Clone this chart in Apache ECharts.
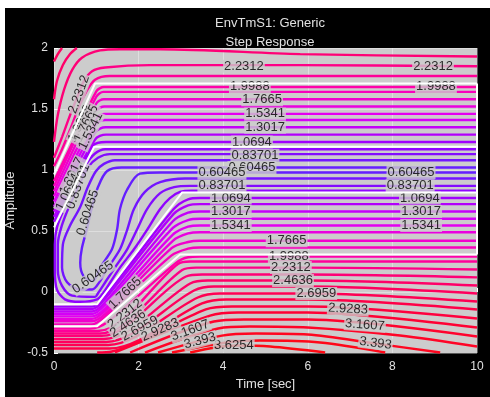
<!doctype html>
<html>
<head>
<meta charset="utf-8">
<title>EnvTmS1: Generic</title>
<script src="https://cdn.jsdelivr.net/npm/echarts@6/dist/echarts.min.js"></script>
<style>
  html, body { margin: 0; background: #fff; }
  #main { position: absolute; left: 5px; top: 8px; width: 485px; height: 389px; background: #000; }
</style>
</head>
<body>
<div id="main"></div>
<script>
// contour lines, one entry per level: [t, amplitude] points
var cornerArcs = [
  {lv: 2.581, pts: [[0,1.89],[0.09,1.95],[0.19,2.0]]},
  {lv: 2.464, pts: [[0,1.58],[0.07,1.73],[0.21,1.86],[0.38,1.95],[0.54,2.0]]},
  {lv: 2.348, pts: [[0,1.23],[0.09,1.45],[0.24,1.66],[0.43,1.82],[0.66,1.92],[1.09,1.98],[1.56,1.99],[2.51,1.99],[5.82,1.95],[10,1.93]]}
];

var upperBand = [
  {lv: 2.2312, pts: [[0,1.10],[0.19,1.27],[0.38,1.45],[0.54,1.59],[0.71,1.73],[0.9,1.81],[1.21,1.84],[2.27,1.86],[5.82,1.86],[10,1.85]]},
  {lv: 2.115, pts: [[0,1.03],[0.19,1.17],[0.38,1.33],[0.57,1.50],[0.76,1.64],[0.97,1.74],[1.32,1.77],[10,1.77]]},
  {lv: 1.9988, pts: [[0,0.91],[0.5,1.27],[1.0,1.645],[1.18,1.68],[10,1.68]]},
  {lv: 1.883, pts: [[0,0.868],[1.0,1.60],[1.17,1.64],[10,1.64]]},
  {lv: 1.7665, pts: [[0,0.826],[1.0,1.545],[1.18,1.58],[10,1.58]]},
  {lv: 1.650, pts: [[0,0.784],[1.0,1.485],[1.19,1.52],[10,1.52]]},
  {lv: 1.5341, pts: [[0,0.742],[1.0,1.425],[1.2,1.46],[10,1.46]]},
  {lv: 1.418, pts: [[0,0.70],[1.0,1.375],[1.21,1.41],[10,1.41]]},
  {lv: 1.3017, pts: [[0,0.659],[0.98,1.31],[1.22,1.35],[10,1.35]]},
  {lv: 1.186, pts: [[0,0.617],[0.97,1.25],[1.23,1.29],[10,1.29]]},
  {lv: 1.0694, pts: [[0,0.575],[0.93,1.20],[1.23,1.23],[10,1.23]]}
];

// loops round the low valley (enter and leave at t = 10)
var valleyLines = [
  {lv: 0.60465, pts: [[10,1.02],[3.0,1.02],[1.6,1.02],[1.25,0.99],[1.04,0.86],[0.90,0.70],[0.78,0.52],[0.66,0.36],[0.62,0.24],[0.70,0.13],[0.92,0.09],[1.09,0.20],[1.37,0.35],[1.49,0.51],[1.56,0.68],[1.73,0.84],[2.03,0.97],[2.51,0.98],[10,0.98]]},
  {lv: 0.721, pts: [[10,1.08],[1.44,1.08],[1.18,1.05],[0.99,0.99],[0.80,0.86],[0.61,0.69],[0.38,0.545],[0.21,0.39],[0.19,0.20],[0.31,0.08],[0.61,0.02],[0.90,0.02],[1.09,0.09],[1.28,0.20],[1.56,0.35],[1.73,0.51],[1.89,0.68],[2.15,0.82],[2.51,0.90],[3.10,0.93],[10,0.93]]},
  {lv: 0.837, pts: [[10,1.13],[1.32,1.13],[1.04,1.10],[0.80,1.02],[0.57,0.865],[0.38,0.72],[0.19,0.55],[0.09,0.39],[0.09,0.18],[0.19,0.05],[0.43,-0.03],[0.97,-0.04],[1.04,-0.01],[1.23,0.09],[1.44,0.20],[1.73,0.35],[1.96,0.51],[2.20,0.68],[2.51,0.81],[2.84,0.86],[3.22,0.87],[10,0.87]]},
  {lv: 0.953, pts: [[10,1.17],[1.21,1.17],[0.97,1.135],[0.76,1.045],[0.50,0.865],[0.24,0.68],[0.07,0.53],[0.02,0.39],[0.02,0.18],[0.07,0.02],[0.26,-0.06],[0.61,-0.08],[1.02,-0.06],[1.18,0.0],[1.35,0.09],[1.56,0.20],[1.89,0.35],[2.20,0.51],[2.51,0.68],[2.74,0.77],[2.98,0.82],[3.26,0.83],[10,0.83]]}
];

var lowerBand = [
  {lv: 1.0694, pts: [[10,0.77],[3.45,0.77],[3.17,0.76],[2.83,0.68],[1.22,-0.03],[0.90,-0.12],[0,-0.12]]},
  {lv: 1.186, pts: [[10,0.72],[3.45,0.72],[3.17,0.71],[2.83,0.64],[1.22,-0.05],[0.90,-0.14],[0,-0.14]]},
  {lv: 1.3017, pts: [[10,0.66],[3.45,0.66],[3.17,0.65],[2.81,0.58],[1.22,-0.08],[0.90,-0.16],[0,-0.16]]},
  {lv: 1.418, pts: [[10,0.60],[3.45,0.60],[3.17,0.59],[2.81,0.525],[1.22,-0.10],[0.90,-0.18],[0,-0.18]]},
  {lv: 1.5341, pts: [[10,0.545],[3.45,0.545],[3.17,0.535],[2.81,0.47],[1.22,-0.13],[0.90,-0.20],[0,-0.20]]},
  {lv: 1.650, pts: [[10,0.49],[3.45,0.49],[3.17,0.48],[2.81,0.42],[1.22,-0.15],[0.90,-0.22],[0,-0.22]]},
  {lv: 1.7665, pts: [[10,0.42],[3.45,0.42],[3.17,0.41],[2.78,0.36],[1.21,-0.18],[0.90,-0.24],[0,-0.24]]},
  {lv: 1.883, pts: [[10,0.365],[3.45,0.365],[3.17,0.355],[2.78,0.30],[1.21,-0.20],[0.90,-0.265],[0,-0.265]]},
  {lv: 1.9988, pts: [[10,0.29],[3.45,0.29],[3.17,0.285],[2.87,0.235],[1.29,-0.24],[0.85,-0.30],[0,-0.30]]}
];

var bottomLines = [
  {lv: 2.115, pts: [[0,-0.32],[1.04,-0.32],[2.93,0.23],[3.22,0.25],[10,0.25]]},
  {lv: 2.2312, pts: [[0,-0.34],[1.09,-0.34],[3.03,0.18],[3.36,0.20],[6.0,0.20],[10,0.185]]},
  {lv: 2.348, pts: [[0,-0.36],[1.13,-0.36],[3.12,0.127],[3.50,0.143],[6.0,0.143],[10,0.12]]},
  {lv: 2.4636, pts: [[0,-0.385],[1.18,-0.385],[3.22,0.07],[3.64,0.094],[6.0,0.094],[10,0.053]]},
  {lv: 2.580, pts: [[0,-0.41],[1.23,-0.41],[3.31,0.012],[3.78,0.045],[6.0,0.045],[10,-0.012]]},
  {lv: 2.6959, pts: [[0,-0.434],[1.28,-0.434],[3.40,-0.045],[3.92,-0.012],[6.0,-0.012],[10,-0.078]]},
  {lv: 2.812, pts: [[0,-0.463],[1.32,-0.463],[3.50,-0.094],[4.07,-0.061],[6.0,-0.061],[10,-0.143]]},
  {lv: 2.9283, pts: [[1.02,-0.496],[1.37,-0.488],[3.59,-0.143],[4.21,-0.119],[6.0,-0.119],[10,-0.217]]},
  {lv: 3.045, pts: [[1.44,-0.496],[3.69,-0.193],[4.35,-0.168],[6.0,-0.168],[10,-0.291]]},
  {lv: 3.1607, pts: [[1.80,-0.496],[3.78,-0.242],[4.49,-0.225],[6.0,-0.225],[10,-0.365]]},
  {lv: 3.277, pts: [[2.15,-0.496],[3.88,-0.299],[4.63,-0.283],[6.0,-0.291],[8.18,-0.357],[10,-0.447]]},
  {lv: 3.393, pts: [[2.46,-0.496],[3.97,-0.357],[4.78,-0.340],[6.0,-0.348],[7.59,-0.422],[9.13,-0.496]]},
  {lv: 3.509, pts: [[2.79,-0.496],[4.07,-0.414],[4.87,-0.398],[6.29,-0.414],[7.83,-0.496]]},
  {lv: 3.6254, pts: [[3.22,-0.496],[3.81,-0.455],[4.33,-0.439],[5.11,-0.447],[6.41,-0.496]]}
];

// white bound lines
var whiteBounds = [
  [[0,0.963],[0.97,1.709],[10,1.709]],
  [[0,0.53],[0.95,1.19],[10,1.19]],
  [[0,-0.10],[1.02,-0.10],[3.03,0.816],[10,0.816]],
  [[0,-0.28],[1.02,-0.28],[2.98,0.307],[10,0.307]],
  [[10,1.709],[10,0.307]]
];

// contour labels: text, t, amplitude, rotation (deg)
var labelList = [
  ['2.2312', 4.49, 1.85, 0], ['1.9988', 4.63, 1.685, 0], ['1.7665', 4.92, 1.575, 0],
  ['1.5341', 4.99, 1.46, 0], ['1.3017', 4.99, 1.35, 0], ['1.0694', 4.68, 1.23, 0],
  ['0.83701', 4.75, 1.12, 0], ['0.60465', 4.68, 1.02, 0],
  ['0.60465', 3.97, 0.98, 0], ['0.83701', 3.97, 0.87, 0], ['1.0694', 4.18, 0.77, 0],
  ['1.3017', 4.18, 0.66, 0], ['1.5341', 4.18, 0.545, 0],
  ['1.7665', 5.5, 0.42, 0], ['1.9988', 5.55, 0.29, 0], ['2.2312', 5.6, 0.20, 0],
  ['2.4636', 5.65, 0.094, 0], ['2.6959', 6.2, -0.012, 0], ['2.9283', 6.95, -0.14, -3],
  ['3.1607', 7.35, -0.27, -4], ['3.393', 7.6, -0.42, -7], ['3.6254', 4.25, -0.44, 0],
  ['2.2312', 8.96, 1.85, 0], ['1.9988', 9.03, 1.685, 0], ['0.60465', 8.44, 0.98, 0],
  ['0.83701', 8.42, 0.87, 0], ['1.0694', 8.65, 0.77, 0], ['1.3017', 8.68, 0.66, 0],
  ['1.5341', 8.68, 0.545, 0],
  ['2.2312', 0.59, 1.62, 70], ['1.9988', 0.62, 1.38, 64], ['1.7665', 0.76, 1.38, 64],
  ['1.5341', 0.87, 1.32, 64], ['1.3017', 0.42, 0.95, 64], ['1.0694', 0.33, 0.82, 64],
  ['0.83701', 0.57, 0.865, 70], ['0.60465', 0.80, 0.65, 72], ['0.60465', 0.92, 0.12, 35],
  ['1.7665', 1.68, -0.01, 44], ['2.2312', 1.68, -0.18, 38], ['2.4636', 1.75, -0.26, 33],
  ['2.6959', 2.03, -0.30, 28], ['2.9283', 2.51, -0.31, 24], ['3.1607', 3.22, -0.315, 20],
  ['3.393', 3.45, -0.40, 15]
];

var colorStops = [
  [0.6, [100, 30, 255]], [1.0, [150, 0, 255]], [1.5, [225, 0, 245]],
  [2.0, [255, 0, 170]], [2.4, [255, 0, 110]], [3.0, [255, 0, 55]], [3.6, [255, 10, 20]]
];

function levelColor(v) {
  if (v <= colorStops[0][0]) return 'rgb(' + colorStops[0][1].join(',') + ')';
  for (var i = 1; i < colorStops.length; i++) {
    if (v <= colorStops[i][0]) {
      var a = colorStops[i - 1], b = colorStops[i];
      var f = (v - a[0]) / (b[0] - a[0]);
      var c = a[1].map(function (x, k) { return Math.round(x + (b[1][k] - x) * f); });
      return 'rgb(' + c.join(',') + ')';
    }
  }
  return 'rgb(' + colorStops[colorStops.length - 1][1].join(',') + ')';
}

var chart = echarts.init(document.getElementById('main'));
var font = 'Liberation Sans, Arial, sans-serif';
var plotGrey = '#cccccc';
var series = [];

cornerArcs.concat(upperBand, valleyLines, lowerBand, bottomLines).forEach(function (c) {
  series.push({
    type: 'line',
    data: c.pts,
    showSymbol: false,
    smooth: 0.3,
    silent: true,
    z: 2,
    lineStyle: { width: 2.4, color: levelColor(c.lv) }
  });
});

series.push({
  type: 'scatter',
  symbolSize: 1,
  silent: true,
  z: 3,
  itemStyle: { color: 'rgba(0,0,0,0)' },
  label: {
    show: true,
    position: 'inside',
    formatter: function (p) { return p.name; },
    color: '#000',
    fontSize: 13,
    fontFamily: font,
    backgroundColor: plotGrey,
    padding: [0, 1]
  },
  data: labelList.map(function (l) {
    return { name: l[0], value: [l[1], l[2]], label: { rotate: l[3] } };
  })
});

whiteBounds.forEach(function (w) {
  series.push({
    type: 'line',
    data: w,
    showSymbol: false,
    silent: true,
    z: 4,
    lineStyle: { width: 2, color: '#ffffff' }
  });
});

chart.setOption({
  animation: false,
  backgroundColor: '#000',
  title: {
    text: 'EnvTmS1: Generic',
    subtext: 'Step Response',
    left: 260,
    top: 4,
    textAlign: 'center',
    itemGap: 6,
    textStyle: { color: '#e0e0e0', fontSize: 13, fontWeight: 'normal', fontFamily: font },
    subtextStyle: { color: '#e0e0e0', fontSize: 13, fontFamily: font }
  },
  grid: {
    left: 49, right: 13, top: 40, bottom: 44,
    outerBoundsMode: 'none',
    show: true, backgroundColor: plotGrey, borderWidth: 0
  },
  xAxis: {
    type: 'value', min: 0, max: 10, interval: 2,
    name: 'Time [sec]', nameLocation: 'middle', nameGap: 24,
    nameTextStyle: { color: '#e0e0e0', fontSize: 13, fontFamily: font },
    axisLine: { show: false },
    axisTick: { show: true, inside: true, length: 4, lineStyle: { color: '#ffffff' } },
    axisLabel: { color: '#e0e0e0', fontSize: 12, fontFamily: font, margin: 8 },
    splitLine: { show: true, lineStyle: { color: 'rgba(255,255,255,0.35)', width: 1 } }
  },
  yAxis: {
    type: 'value', min: -0.5, max: 2, interval: 0.5,
    name: 'Amplitude', nameLocation: 'middle', nameGap: 33,
    nameTextStyle: { color: '#e0e0e0', fontSize: 13, fontFamily: font },
    axisLine: { show: false },
    axisTick: { show: true, inside: true, length: 4, lineStyle: { color: '#ffffff' } },
    axisLabel: { color: '#e0e0e0', fontSize: 12, fontFamily: font, margin: 6 },
    splitLine: { show: true, lineStyle: { color: 'rgba(255,255,255,0.35)', width: 1 } }
  },
  series: series
});

window.addEventListener('resize', function () {
  chart.resize();
});
</script>
</body>
</html>
